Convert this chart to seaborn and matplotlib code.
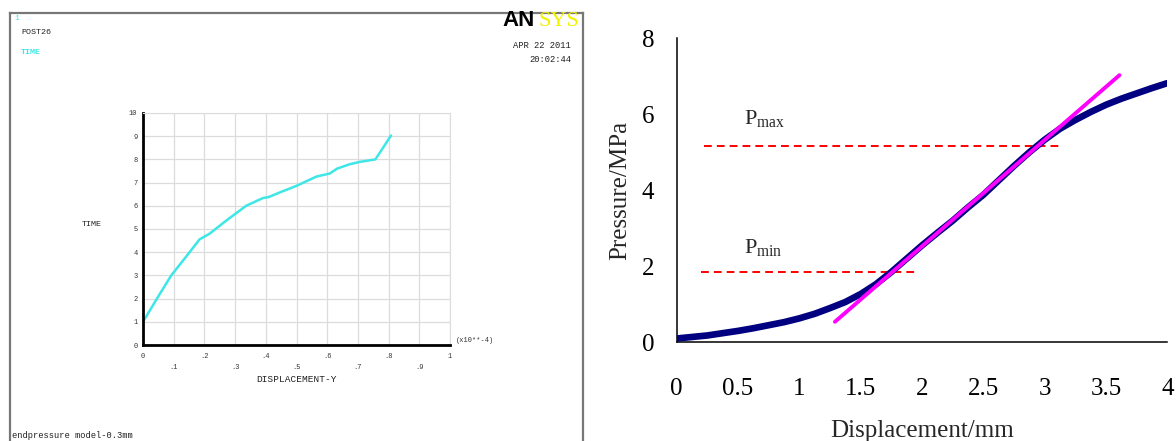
import matplotlib
matplotlib.use("Agg")
import matplotlib.pyplot as plt
import seaborn as sns
import pandas as pd
import numpy as np

# ---------------- data ----------------
# Left panel (ANSYS POST26): TIME vs DISPLACEMENT-Y (x10**-4)
ansys_disp = [0, 0.05, 0.092, 0.14, 0.184, 0.217, 0.27, 0.336, 0.39, 0.41, 0.45,
              0.5, 0.565, 0.608, 0.632, 0.673, 0.705, 0.757, 0.808]
ansys_time = [1.0, 2.1, 3.0, 3.8, 4.55, 4.8, 5.35, 6.0, 6.33, 6.38, 6.6,
              6.86, 7.26, 7.39, 7.6, 7.79, 7.89, 8.0, 9.03]

# Right panel: Pressure vs Displacement
disp_mm = [0, 0.125, 0.25, 0.375, 0.5, 0.625, 0.75, 0.875, 1.0, 1.125, 1.25,
           1.375, 1.5, 1.625, 1.75, 1.875, 2.0, 2.125, 2.25, 2.375, 2.5, 2.625,
           2.75, 2.875, 3.0, 3.125, 3.25, 3.375, 3.5, 3.625, 3.75, 3.875, 4.0]
pressure = [0.10, 0.14, 0.18, 0.24, 0.30, 0.37, 0.45, 0.53, 0.63, 0.75, 0.90,
            1.06, 1.27, 1.53, 1.85, 2.20, 2.55, 2.88, 3.20, 3.55, 3.88, 4.26,
            4.64, 5.00, 5.33, 5.62, 5.85, 6.06, 6.25, 6.41, 6.55, 6.69, 6.82]
tangent_x = [1.29, 3.61]
tangent_y = [0.54, 7.03]
p_max = 5.16
p_max_x = [0.22, 3.14]
p_min = 1.86
p_min_x = [0.2, 1.97]

ansys_xticks_major = [0, 0.2, 0.4, 0.6, 0.8, 1.0]
ansys_xlabels_major = ["0", ".2", ".4", ".6", ".8", "1"]
ansys_xticks_minor = [0.1, 0.3, 0.5, 0.7, 0.9]
ansys_xlabels_minor = [".1", ".3", ".5", ".7", ".9"]
ansys_yticks = list(range(0, 11))

right_xticks = [0, 0.5, 1, 1.5, 2, 2.5, 3, 3.5, 4]
right_xlabels = ["0", "0.5", "1", "1.5", "2", "2.5", "3", "3.5", "4"]
right_yticks = [0, 2, 4, 6, 8]

# ---------------- style ----------------
sns.set_style("white")
plt.rcParams["font.family"] = ["Liberation Serif", "DejaVu Serif"]
plt.rcParams["mathtext.fontset"] = "custom"
plt.rcParams["mathtext.rm"] = "Liberation Serif"
plt.rcParams["mathtext.it"] = "Liberation Serif:italic"

W, H = 1176, 441
fig = plt.figure(figsize=(W / 100, H / 100), dpi=100)


def fx(px):
    return px / W


def fy(py):
    return 1 - py / H


mono = "Liberation Mono"

# ---------------- left panel frame ----------------
frame = fig.add_axes([fx(10), 0, fx(583) - fx(10), fy(13)])
frame.set_xticks([])
frame.set_yticks([])
frame.set_xlim(0, 1)
frame.set_ylim(0, 1)
for s in ["left", "top", "right"]:
    frame.spines[s].set_color("#777777")
    frame.spines[s].set_linewidth(1.6)
frame.spines["bottom"].set_visible(False)
frame.patch.set_alpha(0)

cyan = "#3EE6E6"
fig.text(fx(14), fy(19), "1", color=cyan, fontsize=6, family=mono, va="center")
fig.text(fx(21), fy(32), "POST26", color="#222222", fontsize=6, family=mono, va="center")
fig.text(fx(21), fy(52), "TIME", color=cyan, fontsize=6, family=mono, va="center",
         fontweight="bold")
fig.text(fx(502), fy(21), "AN", color="black", fontsize=16, family="Liberation Sans",
         fontweight="bold", va="center")
fig.text(fx(539), fy(21), "SYS", color="#F2F200", fontsize=16, family="Liberation Serif",
         va="center")
fig.text(fx(571), fy(45), "APR 22 2011", color="#222222", fontsize=6.3, family=mono,
         va="center", ha="right")
fig.text(fx(571), fy(59), "20:02:44", color="#222222", fontsize=6.3, family=mono,
         va="center", ha="right")
fig.text(fx(12), fy(435), "endpressure model-0.3mm", color="#222222", fontsize=6.3,
         family=mono, va="center")

# ---------------- left inner axes ----------------
axL = fig.add_axes([fx(143), fy(345), fx(450) - fx(143), fy(113) - fy(345)])
df_l = pd.DataFrame({"disp": ansys_disp, "time": ansys_time})
sns.lineplot(data=df_l, x="disp", y="time", ax=axL, color=cyan, lw=1.8,
             sort=False, legend=False)
axL.set_xlim(0, 1)
axL.set_ylim(0, 10)
axL.set_xticks(ansys_xticks_major)
axL.set_xticklabels(ansys_xlabels_major, family=mono, fontsize=5)
axL.set_xticks(ansys_xticks_minor, minor=True)
axL.set_xticklabels(ansys_xlabels_minor, minor=True, family=mono, fontsize=5)
axL.set_yticks(ansys_yticks)
axL.set_yticklabels([str(v) for v in ansys_yticks], family=mono, fontsize=5)
axL.tick_params(axis="x", which="major", length=0, pad=6, colors="#333333")
axL.tick_params(axis="x", which="minor", length=0, pad=14, colors="#333333")
axL.tick_params(axis="y", length=0, pad=4, colors="#333333")
for v in np.arange(0.1, 1.01, 0.1):
    axL.axvline(v, color="#dcdcdc", lw=0.9, zorder=0)
for v in range(1, 11):
    axL.axhline(v, color="#dcdcdc", lw=0.9, zorder=0)
axL.spines["left"].set_color("black")
axL.spines["left"].set_linewidth(2)
axL.spines["bottom"].set_color("black")
axL.spines["bottom"].set_linewidth(2)
axL.spines["top"].set_color("#dcdcdc")
axL.spines["right"].set_color("#dcdcdc")
axL.set_xlabel("")
axL.set_ylabel("")
fig.text(fx(297), fy(379), "DISPLACEMENT-Y", family=mono, fontsize=6.8, ha="center",
         va="center", color="#222222")
fig.text(fx(456), fy(341), "(x10**-4)", family=mono, fontsize=5, ha="left",
         va="center", color="#333333")
fig.text(fx(92), fy(224), "TIME", family=mono, fontsize=6, ha="center",
         va="center", color="#222222")

# ---------------- right axes ----------------
axR = fig.add_axes([fx(676.7), fy(342.3), fx(1167.3) - fx(676.7), fy(38.3) - fy(342.3)])
df_r = pd.DataFrame({"disp": disp_mm, "p": pressure})
sns.lineplot(data=df_r, x="disp", y="p", ax=axR, color="#000080", lw=4.8,
             legend=False, zorder=3)
df_t = pd.DataFrame({"x": tangent_x, "y": tangent_y})
sns.lineplot(data=df_t, x="x", y="y", ax=axR, color="#FF00FF", lw=2.8,
             legend=False, zorder=4)
df_pmax = pd.DataFrame({"x": p_max_x, "y": [p_max, p_max]})
sns.lineplot(data=df_pmax, x="x", y="y", ax=axR, color="#FF0000", lw=1.4,
             legend=False, zorder=2)
df_pmin = pd.DataFrame({"x": p_min_x, "y": [p_min, p_min]})
sns.lineplot(data=df_pmin, x="x", y="y", ax=axR, color="#FF0000", lw=1.4,
             legend=False, zorder=2)
for ln in axR.lines[2:]:
    ln.set_linestyle((0, (4, 2.6)))

axR.set_xlim(0, 4)
axR.set_ylim(0, 8)
axR.set_xticks(right_xticks)
axR.set_xticklabels(right_xlabels, fontsize=18)
axR.set_yticks(right_yticks)
axR.set_yticklabels([str(v) for v in right_yticks], fontsize=18)
axR.tick_params(axis="x", direction="in", length=7, width=1, pad=26, colors="black")
axR.tick_params(axis="y", direction="in", length=7, width=1, pad=16, colors="black")
for s in ["top", "right"]:
    axR.spines[s].set_visible(False)
for s in ["left", "bottom"]:
    axR.spines[s].set_color("black")
    axR.spines[s].set_linewidth(1.1)
axR.set_xlabel("Displacement/mm", fontsize=18, labelpad=14)
axR.set_ylabel("Pressure/MPa", fontsize=18, labelpad=8)
axR.text(0.55, 5.9, r"P$_{\rm max}$", fontsize=16, va="center", ha="left")
axR.text(0.55, 2.5, r"P$_{\rm min}$", fontsize=16, va="center", ha="left")

fig.savefig("out.png", dpi=100)
